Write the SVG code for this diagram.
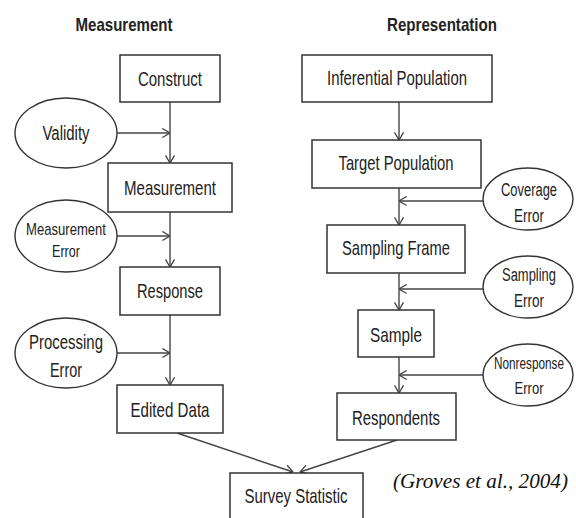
<svg xmlns="http://www.w3.org/2000/svg" width="576" height="518" viewBox="0 0 576 518">
<style>
.box{fill:#fff;stroke:#333;stroke-width:1.5}
.ell{fill:#fff;stroke:#333;stroke-width:1.4}
.t{font-family:"Liberation Sans",Arial,sans-serif;font-size:21px;fill:#222;text-anchor:middle}
.e{font-size:20px}
.r{font-size:18px}
.s{font-size:17px}
.h{font-family:"Liberation Sans",Arial,sans-serif;font-size:19px;font-weight:bold;fill:#222;text-anchor:middle}
.c{font-family:"Liberation Serif","Times New Roman",serif;font-style:italic;font-size:20px;fill:#111}
.ln{fill:none;stroke:#444;stroke-width:1.4}
</style>
<defs>
<marker id="ah" viewBox="0 0 10 12" refX="9.5" refY="6" markerWidth="9" markerHeight="11" orient="auto" markerUnits="userSpaceOnUse">
<path d="M1,1 L9.5,6 L1,11" fill="none" stroke="#444" stroke-width="1.5"/>
</marker>
</defs>
<rect width="576" height="518" fill="#fff"/>
<text class="h" x="124" y="31" textLength="97" lengthAdjust="spacingAndGlyphs">Measurement</text>
<text class="h" x="442" y="31" textLength="110" lengthAdjust="spacingAndGlyphs">Representation</text>

<g id="connectors">
<line class="ln" x1="170" y1="102" x2="170" y2="163" marker-end="url(#ah)"/>
<line class="ln" x1="117" y1="133" x2="170" y2="133" marker-end="url(#ah)"/>
<line class="ln" x1="170" y1="212" x2="170" y2="267" marker-end="url(#ah)"/>
<line class="ln" x1="117" y1="236" x2="170" y2="236" marker-end="url(#ah)"/>
<line class="ln" x1="170" y1="315" x2="170" y2="385" marker-end="url(#ah)"/>
<line class="ln" x1="117" y1="353" x2="170" y2="353" marker-end="url(#ah)"/>
<line class="ln" x1="177" y1="433" x2="293" y2="472" marker-end="url(#ah)"/>
<line class="ln" x1="399" y1="102" x2="399" y2="140" marker-end="url(#ah)"/>
<line class="ln" x1="399" y1="188" x2="399" y2="225" marker-end="url(#ah)"/>
<line class="ln" x1="483" y1="201" x2="399" y2="201" marker-end="url(#ah)"/>
<line class="ln" x1="399" y1="273" x2="399" y2="310" marker-end="url(#ah)"/>
<line class="ln" x1="483" y1="289" x2="399" y2="289" marker-end="url(#ah)"/>
<line class="ln" x1="399" y1="357" x2="399" y2="393" marker-end="url(#ah)"/>
<line class="ln" x1="483" y1="375" x2="399" y2="375" marker-end="url(#ah)"/>
<line class="ln" x1="397" y1="440" x2="300" y2="472" marker-end="url(#ah)"/>
</g>

<g id="construct"><rect class="box" x="120" y="55" width="100" height="47"/><text class="t" x="170" y="86" textLength="64" lengthAdjust="spacingAndGlyphs">Construct</text></g>
<g id="validity"><ellipse class="ell" cx="66" cy="133" rx="51" ry="35"/><text class="t e" x="66" y="140" textLength="47" lengthAdjust="spacingAndGlyphs">Validity</text></g>
<g id="measurement"><rect class="box" x="108" y="163" width="124" height="49"/><text class="t" x="170" y="195" textLength="92" lengthAdjust="spacingAndGlyphs">Measurement</text></g>
<g id="measurement-error"><ellipse class="ell" cx="66" cy="236" rx="51" ry="36"/><text class="t s" x="66" y="235" textLength="80" lengthAdjust="spacingAndGlyphs">Measurement</text><text class="t s" x="66" y="257" textLength="28" lengthAdjust="spacingAndGlyphs">Error</text></g>
<g id="response"><rect class="box" x="120" y="267" width="100" height="48"/><text class="t" x="170" y="298" textLength="66" lengthAdjust="spacingAndGlyphs">Response</text></g>
<g id="processing-error"><ellipse class="ell" cx="66" cy="353" rx="51" ry="35"/><text class="t e" x="66" y="349" textLength="74" lengthAdjust="spacingAndGlyphs">Processing</text><text class="t e" x="66" y="377" textLength="32" lengthAdjust="spacingAndGlyphs">Error</text></g>
<g id="edited-data"><rect class="box" x="117" y="385" width="106" height="48"/><text class="t" x="170" y="417" textLength="79" lengthAdjust="spacingAndGlyphs">Edited Data</text></g>
<g id="survey-statistic"><rect class="box" x="230" y="473" width="133" height="50"/><text class="t" x="296" y="503" textLength="103" lengthAdjust="spacingAndGlyphs">Survey Statistic</text></g>

<g id="inferential-population"><rect class="box" x="302" y="55" width="190" height="47"/><text class="t" x="397" y="85" textLength="140" lengthAdjust="spacingAndGlyphs">Inferential Population</text></g>
<g id="target-population"><rect class="box" x="312" y="140" width="169" height="48"/><text class="t" x="396" y="170" textLength="115" lengthAdjust="spacingAndGlyphs">Target Population</text></g>
<g id="coverage-error"><ellipse class="ell" cx="528" cy="199" rx="45" ry="31"/><text class="t r" x="529" y="196" textLength="56" lengthAdjust="spacingAndGlyphs">Coverage</text><text class="t r" x="529" y="222" textLength="30" lengthAdjust="spacingAndGlyphs">Error</text></g>
<g id="sampling-frame"><rect class="box" x="327" y="225" width="138" height="48"/><text class="t" x="396" y="255" textLength="108" lengthAdjust="spacingAndGlyphs">Sampling Frame</text></g>
<g id="sampling-error"><ellipse class="ell" cx="528" cy="287" rx="45" ry="31"/><text class="t r" x="529" y="281" textLength="54" lengthAdjust="spacingAndGlyphs">Sampling</text><text class="t r" x="529" y="307" textLength="30" lengthAdjust="spacingAndGlyphs">Error</text></g>
<g id="sample"><rect class="box" x="358" y="310" width="76" height="47"/><text class="t" x="396" y="342" textLength="52" lengthAdjust="spacingAndGlyphs">Sample</text></g>
<g id="nonresponse-error"><ellipse class="ell" cx="528" cy="375" rx="45" ry="31"/><text class="t s" x="529" y="369" textLength="70" lengthAdjust="spacingAndGlyphs">Nonresponse</text><text class="t s" x="529" y="394" textLength="29" lengthAdjust="spacingAndGlyphs">Error</text></g>
<g id="respondents"><rect class="box" x="337" y="393" width="119" height="47"/><text class="t" x="396" y="425" textLength="88" lengthAdjust="spacingAndGlyphs">Respondents</text></g>

<text class="c" x="393" y="488" textLength="175" lengthAdjust="spacingAndGlyphs">(Groves et al., 2004)</text>
</svg>
